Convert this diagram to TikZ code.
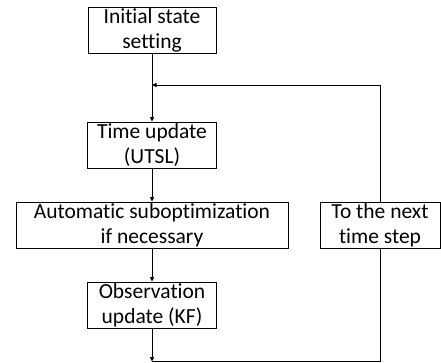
\documentclass[tikz,border=0pt]{standalone}
\usepackage{fontspec}
\setmainfont{Carlito}[RawFeature={-liga;-dlig;-clig}]
\usepackage{tikz}
\usetikzlibrary{positioning, arrows.meta}

\tikzset{
    stepbox/.style={draw, line width=0.9pt, align=center, inner sep=0pt,
        minimum height=46pt, font=\fontsize{21.5}{25}\selectfont},
    flow/.style={line width=0.8pt}
}

\begin{document}
\begin{tikzpicture}[x=1pt, y=-1pt, >={Triangle[length=4.5pt,width=4pt]}]
            \useasboundingbox (0, 0) rectangle (441, 363);

            \node [stepbox, minimum width=128pt] (init) at (152, 30) {Initial state\\setting};
            \node [stepbox, minimum width=129pt] (tupd) at (152, 145) {Time update\\(UTSL)};
            \node [stepbox, minimum width=272pt] (auto) at (152, 225) {Automatic suboptimization\\if necessary};
            \node [stepbox, minimum width=129pt] (obs) at (152, 305) {Observation\\update (KF)};
            \node [stepbox, minimum width=120pt] (next) at (380, 225) {To the next\\time step};

            \coordinate (bot) at (152, 361.5);
            \coordinate (back) at (152, 85);

            \draw [flow, ->] (init) -- (tupd);
            \draw [flow, ->] (tupd) -- (auto);
            \draw [flow, ->] (auto) -- (obs);
            \draw [flow, ->] (obs) -- (bot);
            \draw [flow] (bot) -| (next);
            \draw [flow, ->] (next) |- (back);
        \end{tikzpicture}
\end{document}
